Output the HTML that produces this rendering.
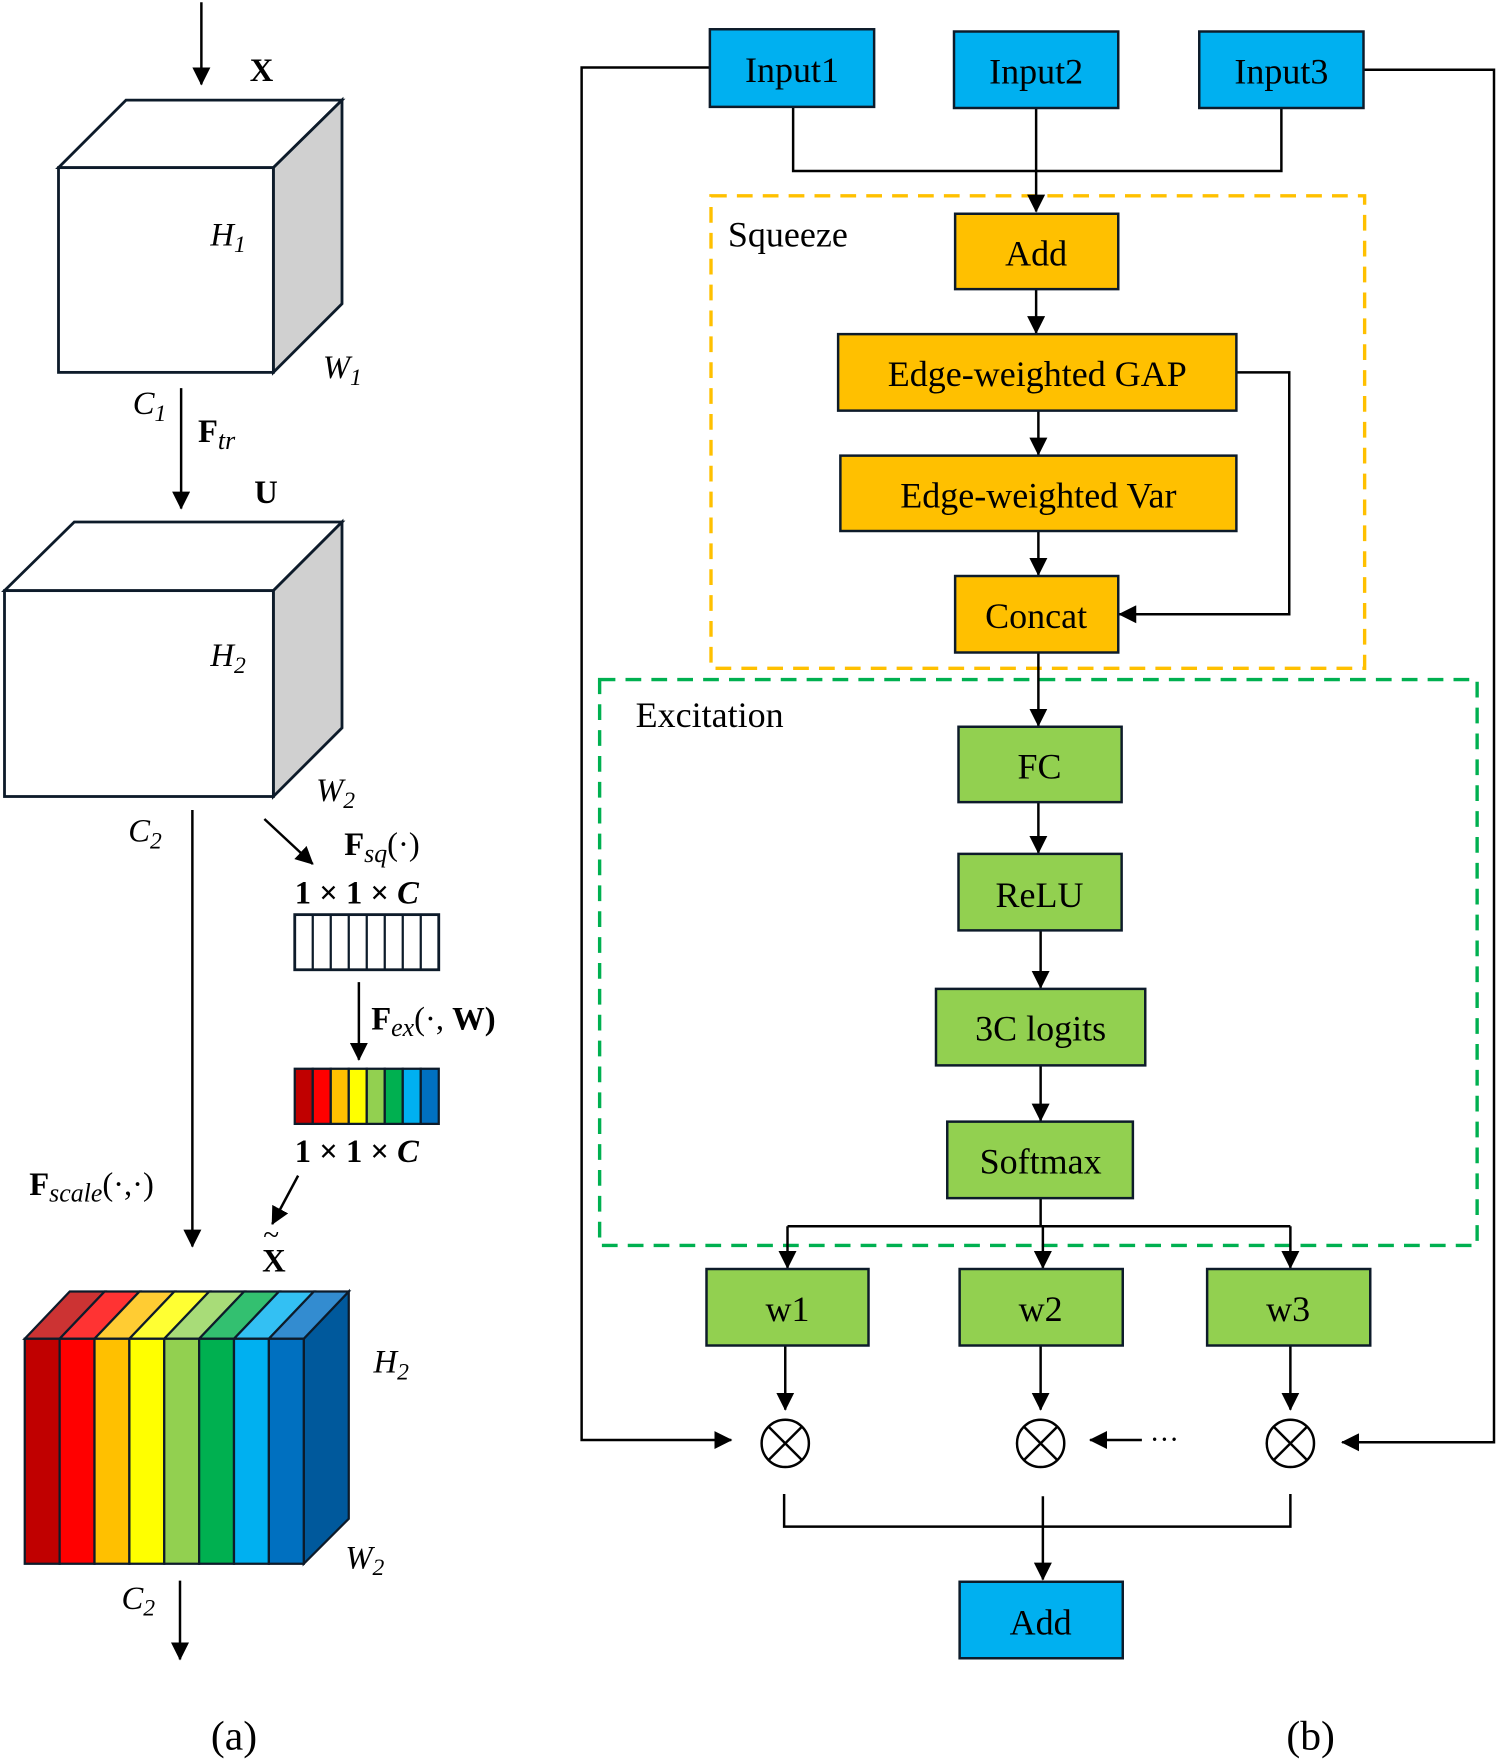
<!DOCTYPE html>
<html><head><meta charset="utf-8"><style>html,body{margin:0;padding:0;background:#fff}svg{display:block}text{font-family:"Liberation Serif","Times New Roman",serif}</style></head>
<body>
<svg width="1500" height="1763" viewBox="0 0 1333.33 1567.1" xmlns="http://www.w3.org/2000/svg">
<defs>
<marker id="ah2" markerWidth="16" markerHeight="16" refX="15" refY="8" orient="auto" markerUnits="userSpaceOnUse" viewBox="0 0 16 16">
<path d="M0,0 L16,8 L0,16 z" fill="#000"/></marker>
</defs>
<g stroke="#000" stroke-width="2.2" fill="none">
<line x1="179" y1="2" x2="179" y2="75" marker-end="url(#ah2)"/>
<line x1="161" y1="345" x2="161" y2="452" marker-end="url(#ah2)"/>
<line x1="171" y1="720" x2="171" y2="1108" marker-end="url(#ah2)"/>
<line x1="235" y1="728" x2="278" y2="768" marker-end="url(#ah2)"/>
<line x1="319" y1="873" x2="319" y2="942" marker-end="url(#ah2)"/>
<line x1="265" y1="1045" x2="242" y2="1088" marker-end="url(#ah2)"/>
<line x1="160" y1="1405" x2="160" y2="1475" marker-end="url(#ah2)"/>
</g>
<g stroke="#0d1b2a" stroke-width="2.5">
<polygon points="52,149 112,89 304,89 243,149" fill="#fff"/>
<polygon points="243,149 304,89 304,270 243,331" fill="#d0d0d0"/>
<rect x="52" y="149" width="191" height="182" fill="#fff"/>
<polygon points="4,525 66,464 304,464 243,525" fill="#fff"/>
<polygon points="243,525 304,464 304,647 243,708" fill="#d0d0d0"/>
<rect x="4" y="525" width="239" height="183" fill="#fff"/>
<rect x="262" y="813" width="128" height="49" fill="#fff"/>
</g>
<g stroke="#0d1b2a" stroke-width="2">
<line x1="278" y1="813" x2="278" y2="862"/><line x1="294" y1="813" x2="294" y2="862"/><line x1="310" y1="813" x2="310" y2="862"/><line x1="326" y1="813" x2="326" y2="862"/><line x1="342" y1="813" x2="342" y2="862"/><line x1="358" y1="813" x2="358" y2="862"/><line x1="374" y1="813" x2="374" y2="862"/>
<rect x="262" y="950" width="16" height="49" fill="#c00000"/><rect x="278" y="950" width="16" height="49" fill="#ff0000"/><rect x="294" y="950" width="16" height="49" fill="#ffc000"/><rect x="310" y="950" width="16" height="49" fill="#ffff00"/><rect x="326" y="950" width="16" height="49" fill="#92d050"/><rect x="342" y="950" width="16" height="49" fill="#00b050"/><rect x="358" y="950" width="16" height="49" fill="#00b0f0"/><rect x="374" y="950" width="16" height="49" fill="#0070c0"/>
<polygon points="270,1190 310,1148 310,1350 270,1390" fill="#00599c"/>
<polygon points="22,1190 62,1148 93,1148 53,1190" fill="#cc3333"/>
<polygon points="53,1190 93,1148 124,1148 84,1190" fill="#ff3333"/>
<polygon points="84,1190 124,1148 155,1148 115,1190" fill="#ffcc33"/>
<polygon points="115,1190 155,1148 186,1148 146,1190" fill="#ffff33"/>
<polygon points="146,1190 186,1148 217,1148 177,1190" fill="#a8dc78"/>
<polygon points="177,1190 217,1148 248,1148 208,1190" fill="#33c070"/>
<polygon points="208,1190 248,1148 279,1148 239,1190" fill="#33c0f3"/>
<polygon points="239,1190 279,1148 310,1148 270,1190" fill="#338cd0"/>
<rect x="22" y="1190" width="31" height="200" fill="#c00000"/>
<rect x="53" y="1190" width="31" height="200" fill="#ff0000"/>
<rect x="84" y="1190" width="31" height="200" fill="#ffc000"/>
<rect x="115" y="1190" width="31" height="200" fill="#ffff00"/>
<rect x="146" y="1190" width="31" height="200" fill="#92d050"/>
<rect x="177" y="1190" width="31" height="200" fill="#00b050"/>
<rect x="208" y="1190" width="31" height="200" fill="#00b0f0"/>
<rect x="239" y="1190" width="31" height="200" fill="#0070c0"/>
</g>
<g font-size="29" fill="#000">
<text x="222" y="72" font-weight="bold">X</text>
<text x="226" y="447" font-weight="bold">U</text>
<text x="187" y="218" font-style="italic">H<tspan font-size="21" dy="6">1</tspan></text>
<text x="287" y="336" font-style="italic">W<tspan font-size="21" dy="6">1</tspan></text>
<text x="118" y="368" font-style="italic">C<tspan font-size="21" dy="6">1</tspan></text>
<text x="176" y="393" font-weight="bold">F<tspan font-size="23" dy="6" font-style="italic" font-weight="normal">tr</tspan></text>
<text x="187" y="592" font-style="italic">H<tspan font-size="21" dy="6">2</tspan></text>
<text x="281" y="712" font-style="italic">W<tspan font-size="21" dy="6">2</tspan></text>
<text x="114" y="748" font-style="italic">C<tspan font-size="21" dy="6">2</tspan></text>
<text x="306" y="760" font-weight="bold">F<tspan font-size="23" dy="6" font-style="italic" font-weight="normal">sq</tspan><tspan dy="-6" font-weight="normal">(·)</tspan></text>
<text x="262" y="803" font-weight="bold">1 × 1 × <tspan font-style="italic">C</tspan></text>
<text x="330" y="915" font-weight="bold">F<tspan font-size="23" dy="6" font-style="italic" font-weight="normal">ex</tspan><tspan dy="-6" font-weight="normal">(·, </tspan><tspan font-weight="bold">W</tspan><tspan>)</tspan></text>
<text x="262" y="1033" font-weight="bold">1 × 1 × <tspan font-style="italic">C</tspan></text>
<text x="233" y="1130" font-weight="bold">X</text>
<text x="234" y="1106" font-size="26">~</text>
<text x="26" y="1062" font-weight="bold">F<tspan font-size="23" dy="6" font-style="italic" font-weight="normal">scale</tspan><tspan dy="-6" font-weight="normal">(·,·)</tspan></text>
<text x="332" y="1220" font-style="italic">H<tspan font-size="21" dy="6">2</tspan></text>
<text x="307" y="1394" font-style="italic">W<tspan font-size="21" dy="6">2</tspan></text>
<text x="108" y="1430" font-style="italic">C<tspan font-size="21" dy="6">2</tspan></text>
<text x="208" y="1555" font-size="37" text-anchor="middle">(a)</text>
<text x="1165" y="1555" font-size="37" text-anchor="middle">(b)</text>
</g>
<rect x="632" y="174" width="581" height="420" fill="none" stroke="#ffc000" stroke-width="3" stroke-dasharray="14,9"/>
<rect x="533" y="604" width="780" height="503" fill="none" stroke="#00b050" stroke-width="3" stroke-dasharray="14,9"/>
<g stroke="#000" stroke-width="2.2" fill="none">
<polyline points="631,60 517,60 517,1280 650,1280" marker-end="url(#ah2)"/>
<polyline points="1212,62 1328,62 1328,1282 1193,1282" marker-end="url(#ah2)"/>
<polyline points="705,95 705,152 1139,152 1139,96"/>
<line x1="921" y1="96" x2="921" y2="188" marker-end="url(#ah2)"/>
<line x1="921" y1="257" x2="921" y2="296" marker-end="url(#ah2)"/>
<line x1="923" y1="365" x2="923" y2="404" marker-end="url(#ah2)"/>
<line x1="923" y1="472" x2="923" y2="511" marker-end="url(#ah2)"/>
<polyline points="1099,331 1146,331 1146,546 995,546" marker-end="url(#ah2)"/>
<line x1="923" y1="580" x2="923" y2="645" marker-end="url(#ah2)"/>
<line x1="923" y1="713" x2="923" y2="758" marker-end="url(#ah2)"/>
<line x1="925" y1="827" x2="925" y2="878" marker-end="url(#ah2)"/>
<line x1="925" y1="947" x2="925" y2="996" marker-end="url(#ah2)"/>
<line x1="925" y1="1065" x2="925" y2="1090"/>
<line x1="700" y1="1090" x2="1147" y2="1090"/>
<line x1="700" y1="1090" x2="700" y2="1127" marker-end="url(#ah2)"/>
<line x1="927" y1="1090" x2="927" y2="1127" marker-end="url(#ah2)"/>
<line x1="1147" y1="1090" x2="1147" y2="1127" marker-end="url(#ah2)"/>
<line x1="698" y1="1196" x2="698" y2="1253" marker-end="url(#ah2)"/>
<line x1="925" y1="1196" x2="925" y2="1253" marker-end="url(#ah2)"/>
<line x1="1147" y1="1196" x2="1147" y2="1253" marker-end="url(#ah2)"/>
<line x1="1015" y1="1280" x2="969" y2="1280" marker-end="url(#ah2)"/>
<polyline points="697,1328 697,1357 1147,1357 1147,1328"/>
<line x1="927" y1="1330" x2="927" y2="1404" marker-end="url(#ah2)"/>
<circle cx="698" cy="1283" r="21"/><line x1="683" y1="1268" x2="713" y2="1298"/><line x1="713" y1="1268" x2="683" y2="1298"/>
<circle cx="925" cy="1283" r="21"/><line x1="910" y1="1268" x2="940" y2="1298"/><line x1="940" y1="1268" x2="910" y2="1298"/>
<circle cx="1147" cy="1283" r="21"/><line x1="1132" y1="1268" x2="1162" y2="1298"/><line x1="1162" y1="1268" x2="1132" y2="1298"/>
</g>
<text x="1022" y="1288" font-size="26">···</text>
<g stroke="#0d1b2a" stroke-width="2.2">
<rect x="631" y="26" width="146" height="69" fill="#00b0f0"/>
<rect x="848" y="28" width="146" height="68" fill="#00b0f0"/>
<rect x="1066" y="28" width="146" height="68" fill="#00b0f0"/>
<rect x="849" y="190" width="145" height="67" fill="#ffc000"/>
<rect x="745" y="297" width="354" height="68" fill="#ffc000"/>
<rect x="747" y="405" width="352" height="67" fill="#ffc000"/>
<rect x="849" y="512" width="145" height="68" fill="#ffc000"/>
<rect x="852" y="646" width="145" height="67" fill="#92d050"/>
<rect x="852" y="759" width="145" height="68" fill="#92d050"/>
<rect x="832" y="879" width="186" height="68" fill="#92d050"/>
<rect x="842" y="997" width="165" height="68" fill="#92d050"/>
<rect x="628" y="1128" width="144" height="68" fill="#92d050"/>
<rect x="853" y="1128" width="145" height="68" fill="#92d050"/>
<rect x="1073" y="1128" width="145" height="68" fill="#92d050"/>
<rect x="853" y="1406" width="145" height="68" fill="#00b0f0"/>
</g>
<g font-size="32" fill="#000" text-anchor="middle">
<text x="704" y="73">Input1</text>
<text x="921" y="74">Input2</text>
<text x="1139" y="74">Input3</text>
<text x="921" y="236">Add</text>
<text x="922" y="343">Edge-weighted GAP</text>
<text x="923" y="451">Edge-weighted Var</text>
<text x="921" y="558">Concat</text>
<text x="924" y="692">FC</text>
<text x="924" y="806">ReLU</text>
<text x="925" y="925">3C logits</text>
<text x="925" y="1043">Softmax</text>
<text x="700" y="1174">w1</text>
<text x="925" y="1174">w2</text>
<text x="1145" y="1174">w3</text>
<text x="925" y="1453">Add</text>
</g>
<g font-size="32" fill="#000">
<text x="647" y="219">Squeeze</text>
<text x="565" y="646">Excitation</text>
</g>
</svg>
</body></html>
